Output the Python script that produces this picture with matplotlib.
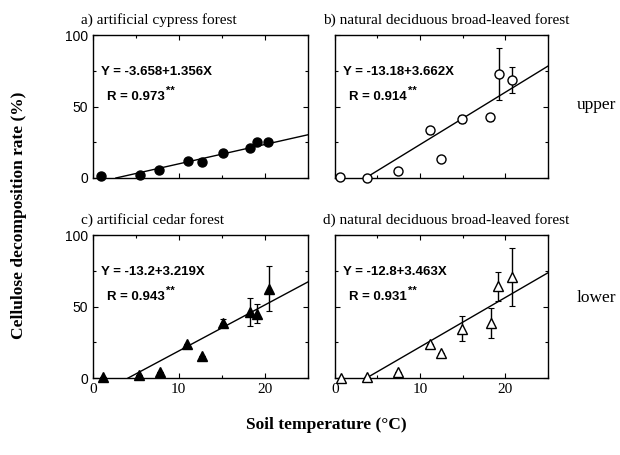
import numpy as np
import matplotlib

matplotlib.use('Agg')
import matplotlib.pyplot as plt
from matplotlib.ticker import MultipleLocator

# a) artificial cypress forest (upper)
temp_a = [1.0, 5.5, 7.7, 11.1, 12.7, 15.1, 18.3, 19.1, 20.4]
rate_a = [1.5, 2.0, 5.6, 12.0, 11.0, 17.3, 20.7, 25.4, 25.4]
err_a_lo = [0, 0, 0, 0, 0, 0, 0, 2, 0]
err_a_hi = [0, 0, 0, 0, 0, 0, 0, 2, 0]

# b) natural deciduous broad-leaved forest (upper)
temp_b = [0.6, 3.8, 7.4, 11.2, 12.5, 14.9, 18.2, 19.2, 20.8]
rate_b = [0.5, 0.0, 5.0, 33.6, 13.3, 41.3, 42.9, 72.7, 68.5]
err_b_lo = [0, 0, 0, 3, 0, 3, 3, 18, 9]
err_b_hi = [0, 0, 0, 0, 0, 3, 0, 18, 9]

# c) artificial cedar forest (lower)
temp_c = [1.2, 5.4, 7.8, 11.0, 12.7, 15.1, 18.3, 19.1, 20.5]
rate_c = [1.0, 2.0, 4.4, 23.8, 15.4, 38.7, 46.4, 45.2, 62.7]
err_c_lo = [0, 0, 0, 0, 0, 0, 10, 6.5, 16]
err_c_hi = [0, 0, 0, 0, 0, 3, 10, 6.5, 16]

# d) natural deciduous broad-leaved forest (lower)
temp_d = [0.7, 3.8, 7.4, 11.2, 12.5, 14.9, 18.3, 19.1, 20.8]
rate_d = [0.0, 0.5, 4.4, 23.8, 17.7, 34.7, 38.5, 64.3, 70.8]
err_d_lo = [0, 0, 0, 0, 0, 9, 10.5, 10, 20]
err_d_hi = [0, 0, 0, 0, 0, 9, 10.5, 10, 20]

titles = ['a) artificial cypress forest', 'b) natural deciduous broad-leaved forest',
          'c) artificial cedar forest', 'd) natural deciduous broad-leaved forest']
intercepts = [-3.658, -13.18, -13.2, -12.8]
slopes = [1.356, 3.662, 3.219, 3.463]
equations = ['Y = -3.658+1.356X', 'Y = -13.18+3.662X', 'Y = -13.2+3.219X', 'Y = -12.8+3.463X']
r_values = ['R = 0.973', 'R = 0.914', 'R = 0.943', 'R = 0.931']

panels = [
    (temp_a, rate_a, err_a_lo, err_a_hi, 'o', 'black'),
    (temp_b, rate_b, err_b_lo, err_b_hi, 'o', 'white'),
    (temp_c, rate_c, err_c_lo, err_c_hi, '^', 'black'),
    (temp_d, rate_d, err_d_lo, err_d_hi, '^', 'white'),
]

serif = 'Liberation Serif'
sans = 'Liberation Sans'

fig = plt.figure(figsize=(6.2, 4.55), dpi=100)
rects = [
    [0.1495, 0.6088, 0.347, 0.314],
    [0.540, 0.6088, 0.344, 0.314],
    [0.1495, 0.169, 0.347, 0.314],
    [0.540, 0.169, 0.344, 0.314],
]

for i, (x, y, lo, hi, mk, fc) in enumerate(panels):
    ax = fig.add_axes(rects[i])
    ax.errorbar(x, y, yerr=[lo, hi], fmt='none', ecolor='black', elinewidth=1,
                capsize=2, capthick=0.8, zorder=2)
    ax.plot(x, y, linestyle='none', marker=mk, markersize=6.5, clip_on=False,
            markerfacecolor=fc, markeredgecolor='black', markeredgewidth=1, zorder=3)
    x0 = -intercepts[i] / slopes[i]
    xl = np.array([x0, 25])
    ax.plot(xl, intercepts[i] + slopes[i] * xl, color='black', linewidth=1, zorder=1)

    ax.set_xlim(0, 25)
    ax.set_ylim(0, 100)
    ax.xaxis.set_major_locator(MultipleLocator(10))
    ax.xaxis.set_minor_locator(MultipleLocator(5))
    ax.yaxis.set_major_locator(MultipleLocator(50))
    ax.yaxis.set_minor_locator(MultipleLocator(25))
    ax.tick_params(which='both', direction='in', top=True, right=True, width=0.8)
    ax.tick_params(which='major', length=3.5)
    ax.tick_params(which='minor', length=2.5)
    for s in ax.spines.values():
        s.set_linewidth(1)

    if i < 2:
        ax.set_xticklabels([])
    else:
        for lab in ax.get_xticklabels():
            lab.set_fontfamily(serif)
            lab.set_fontsize(11)
    if i % 2 == 1:
        ax.set_yticklabels([])
    else:
        for lab in ax.get_yticklabels():
            lab.set_fontfamily(sans)
            lab.set_fontsize(10)

    ax.text(-0.055, 1.06, titles[i], transform=ax.transAxes, fontsize=11,
            family=serif, ha='left', va='bottom')
    ax.text(0.04, 0.74, equations[i], transform=ax.transAxes, fontsize=9.5,
            family=sans, fontweight='bold', ha='left', va='center')
    t = ax.text(0.065, 0.57, r_values[i], transform=ax.transAxes, fontsize=9.5,
                family=sans, fontweight='bold', ha='left', va='center')
    ax.annotate('**', xy=(1, 1), xycoords=t, xytext=(1, -4), textcoords='offset points',
                fontsize=8, family=sans, fontweight='bold', ha='left', va='bottom')

fig.text(0.03, 0.527, 'Cellulose decomposition rate (%)', rotation=90, fontsize=12.5,
         family=serif, fontweight='bold', ha='center', va='center')
fig.text(0.527, 0.065, 'Soil temperature (°C)', fontsize=12.5, family=serif,
         fontweight='bold', ha='center', va='center')
fig.text(0.962, 0.77, 'upper', fontsize=12.5, family=serif, ha='center', va='center')
fig.text(0.962, 0.345, 'lower', fontsize=12.5, family=serif, ha='center', va='center')

fig.savefig('out.png', dpi=100)
